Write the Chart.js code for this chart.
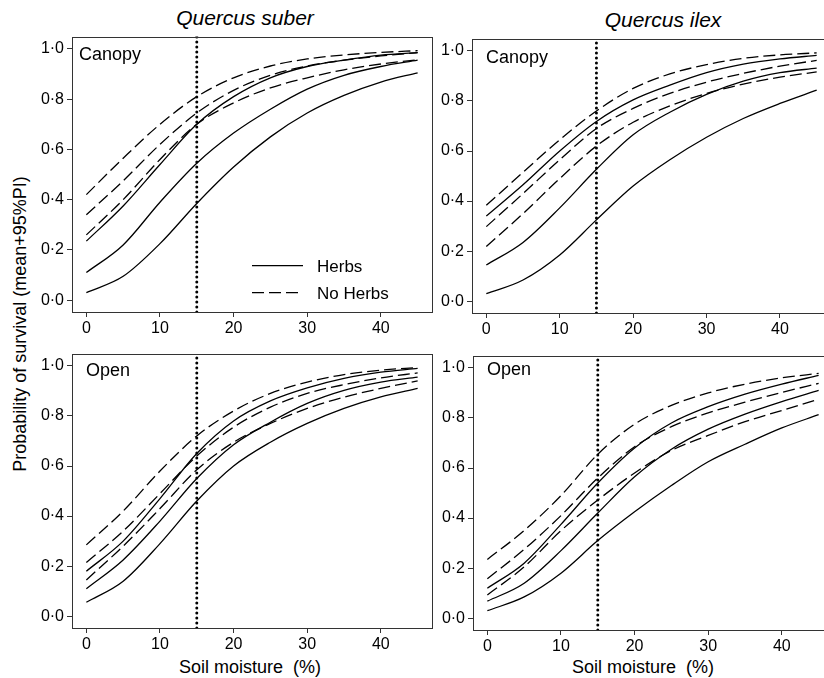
<!DOCTYPE html>
<html>
<head>
<meta charset="utf-8">
<script src="https://cdn.jsdelivr.net/npm/chart.js@4"></script>
<style>
  body { margin: 0; width: 824px; height: 678px; overflow: hidden; background: #fff; position: relative; font-family: "Liberation Sans", Arial, sans-serif; }
  canvas { position: absolute; }
  .lbl { position: absolute; white-space: pre; color: #000; transform: translate(-50%, -50%); }
  .title { font-style: italic; font-size: 21px; }
  .axis { font-size: 18px; }
</style>
</head>
<body>
<div class="lbl title" style="left:245px;top:18px">Quercus suber</div>
<div class="lbl title" style="left:663px;top:20px">Quercus ilex</div>
<div class="lbl axis" style="left:20px;top:324px;transform:translate(-50%,-50%) rotate(-90deg)">Probability of survival (mean+95%PI)</div>
<div class="lbl axis" style="left:250px;top:667px">Soil moisture  (%)</div>
<div class="lbl axis" style="left:643px;top:667px">Soil moisture  (%)</div>
<script>
// soil moisture (%) where curves were read
const moisture = [0, 5, 10, 15, 20, 25, 30, 35, 40, 45]
const threshold = 15
const xTicks = [0, 10, 20, 30, 40]
const xTickLabels = ["0", "10", "20", "30", "40"]
const yTicks = [0, 0.2, 0.4, 0.6, 0.8, 1]
const yTickLabels = ["0·0", "0·2", "0·4", "0·6", "0·8", "1·0"]

// Quercus suber, canopy
const suberCanopyHerbsLo = [0.03, 0.095, 0.225, 0.385, 0.53, 0.65, 0.745, 0.815, 0.868, 0.905]
const suberCanopyHerbsMid = [0.11, 0.22, 0.39, 0.545, 0.665, 0.76, 0.84, 0.895, 0.93, 0.955]
const suberCanopyHerbsHi = [0.235, 0.375, 0.54, 0.70, 0.81, 0.885, 0.93, 0.955, 0.975, 0.985]
const suberCanopyNoHerbsLo = [0.26, 0.40, 0.56, 0.70, 0.785, 0.845, 0.885, 0.917, 0.94, 0.957]
const suberCanopyNoHerbsMid = [0.34, 0.475, 0.62, 0.745, 0.835, 0.895, 0.932, 0.955, 0.972, 0.985]
const suberCanopyNoHerbsHi = [0.42, 0.565, 0.70, 0.81, 0.885, 0.932, 0.96, 0.976, 0.986, 0.993]

// Quercus ilex, canopy
const ilexCanopyHerbsLo = [0.03, 0.085, 0.185, 0.325, 0.46, 0.565, 0.655, 0.73, 0.79, 0.843]
const ilexCanopyHerbsMid = [0.145, 0.235, 0.373, 0.527, 0.665, 0.755, 0.826, 0.879, 0.913, 0.931]
const ilexCanopyHerbsHi = [0.34, 0.465, 0.60, 0.718, 0.804, 0.863, 0.913, 0.947, 0.968, 0.982]
const ilexCanopyNoHerbsLo = [0.219, 0.35, 0.49, 0.62, 0.715, 0.78, 0.83, 0.867, 0.895, 0.916]
const ilexCanopyNoHerbsMid = [0.298, 0.43, 0.565, 0.69, 0.77, 0.83, 0.875, 0.91, 0.939, 0.962]
const ilexCanopyNoHerbsHi = [0.383, 0.515, 0.645, 0.76, 0.85, 0.908, 0.945, 0.97, 0.984, 0.992]

// Quercus suber, open
const suberOpenHerbsLo = [0.056, 0.14, 0.29, 0.46, 0.60, 0.695, 0.77, 0.83, 0.876, 0.91]
const suberOpenHerbsMid = [0.11, 0.225, 0.38, 0.55, 0.685, 0.775, 0.85, 0.902, 0.935, 0.955]
const suberOpenHerbsHi = [0.18, 0.30, 0.47, 0.65, 0.78, 0.86, 0.912, 0.95, 0.975, 0.99]
const suberOpenNoHerbsLo = [0.145, 0.28, 0.43, 0.585, 0.695, 0.77, 0.83, 0.875, 0.91, 0.94]
const suberOpenNoHerbsMid = [0.215, 0.34, 0.49, 0.64, 0.755, 0.835, 0.89, 0.925, 0.952, 0.972]
const suberOpenNoHerbsHi = [0.285, 0.42, 0.58, 0.72, 0.82, 0.89, 0.935, 0.965, 0.983, 0.993]

// Quercus ilex, open
const ilexOpenHerbsLo = [0.03, 0.085, 0.18, 0.31, 0.425, 0.53, 0.625, 0.695, 0.76, 0.813]
const ilexOpenHerbsMid = [0.068, 0.14, 0.27, 0.42, 0.565, 0.675, 0.755, 0.815, 0.865, 0.91]
const ilexOpenHerbsHi = [0.12, 0.22, 0.375, 0.54, 0.68, 0.78, 0.845, 0.895, 0.935, 0.97]
const ilexOpenNoHerbsLo = [0.093, 0.205, 0.35, 0.472, 0.58, 0.67, 0.73, 0.785, 0.83, 0.875]
const ilexOpenNoHerbsMid = [0.158, 0.275, 0.41, 0.56, 0.685, 0.765, 0.82, 0.863, 0.902, 0.938]
const ilexOpenNoHerbsHi = [0.235, 0.35, 0.49, 0.655, 0.775, 0.85, 0.9, 0.935, 0.96, 0.978]

const X_MIN = -1.95, X_MAX = 46.95
const Y_MIN = -0.047, Y_MAX = 1.049
const PAD_L = 60, PAD_T = 10, PAD_R = 4, PAD_B = 32

Chart.defaults.font.family = '"Liberation Sans", Arial, sans-serif'
Chart.defaults.color = "#000"

const boxPlugin = {
  id: "box",
  afterDraw(chart) {
    const { ctx, chartArea: a } = chart
    ctx.save()
    ctx.strokeStyle = "#333"
    ctx.lineWidth = 1
    ctx.strokeRect(Math.round(a.left) + 0.5, Math.round(a.top) + 0.5, Math.round(a.right - a.left), Math.round(a.bottom - a.top))
    ctx.restore()
  },
}

const panelTextPlugin = {
  id: "panelText",
  afterDraw(chart, args, opts) {
    const { ctx, chartArea: a } = chart
    ctx.save()
    ctx.font = '18px "Liberation Sans", Arial, sans-serif'
    ctx.fillStyle = "#000"
    ctx.textBaseline = "alphabetic"
    ctx.fillText(opts.text, a.left + opts.dx, a.top + opts.dy)
    ctx.restore()
  },
}

const herbLegendPlugin = {
  id: "herbLegend",
  afterDraw(chart, args, opts) {
    if (!opts.show) return
    const { ctx, chartArea: a } = chart
    const rows = [
      { text: "Herbs", dash: [], dy: 229 },
      { text: "No Herbs", dash: [12, 5], dy: 256 },
    ]
    ctx.save()
    ctx.strokeStyle = "#000"
    ctx.lineWidth = 1.3
    ctx.fillStyle = "#000"
    ctx.font = '17px "Liberation Sans", Arial, sans-serif'
    rows.forEach((r) => {
      ctx.setLineDash(r.dash)
      ctx.beginPath()
      ctx.moveTo(a.left + 180, a.top + r.dy)
      ctx.lineTo(a.left + 231, a.top + r.dy)
      ctx.stroke()
      ctx.fillText(r.text, a.left + 245, a.top + r.dy + 6)
    })
    ctx.restore()
  },
}

function points(vals) {
  return moisture.map((x, i) => ({ x, y: vals[i] }))
}

function curve(vals, dashed) {
  return {
    data: points(vals),
    borderColor: "#000",
    borderWidth: 1.3,
    borderDash: dashed ? [12, 5] : [],
    pointRadius: 0,
    cubicInterpolationMode: "monotone",
    fill: false,
  }
}

function makePanel(box, herbs, noHerbs, label, showLegend) {
  const canvas = document.createElement("canvas")
  const w = box.r - box.l + PAD_L + PAD_R
  const h = box.b - box.t + PAD_T + PAD_B
  canvas.width = w
  canvas.height = h
  canvas.style.left = box.l - PAD_L + "px"
  canvas.style.top = box.t - PAD_T + "px"
  document.body.appendChild(canvas)

  const cutoff = {
    data: [{ x: threshold, y: Y_MIN }, { x: threshold, y: Y_MAX }],
    borderColor: "#000",
    borderWidth: 3,
    borderDash: [0, 5],
    borderCapStyle: "round",
    pointRadius: 0,
  }

  new Chart(canvas, {
    type: "line",
    data: {
      datasets: [
        cutoff,
        ...herbs.map((v) => curve(v, false)),
        ...noHerbs.map((v) => curve(v, true)),
      ],
    },
    options: {
      responsive: false,
      animation: false,
      devicePixelRatio: 1,
      events: [],
      layout: { padding: { left: 0, top: PAD_T, right: PAD_R, bottom: 0 } },
      plugins: {
        legend: { display: false },
        tooltip: { enabled: false },
        panelText: label,
        herbLegend: { show: showLegend },
      },
      scales: {
        x: {
          type: "linear",
          min: X_MIN,
          max: X_MAX,
          afterBuildTicks: (s) => { s.ticks = xTicks.map((v) => ({ value: v })) },
          afterFit: (s) => { s.height = PAD_B },
          ticks: {
            autoSkip: false,
            maxRotation: 0,
            padding: 2,
            font: { size: 16 },
            color: "#000",
            callback: (v, i) => xTickLabels[i],
          },
          grid: { drawOnChartArea: false, drawTicks: true, tickLength: 5, color: "#333" },
          border: { display: false },
        },
        y: {
          type: "linear",
          min: Y_MIN,
          max: Y_MAX,
          afterBuildTicks: (s) => { s.ticks = yTicks.map((v) => ({ value: v })) },
          afterFit: (s) => { s.width = PAD_L },
          ticks: {
            autoSkip: false,
            padding: 3,
            font: { size: 16 },
            color: "#000",
            callback: (v, i) => yTickLabels[i],
          },
          grid: { drawOnChartArea: false, drawTicks: true, tickLength: 5, color: "#333" },
          border: { display: false },
        },
      },
    },
    plugins: [boxPlugin, panelTextPlugin, herbLegendPlugin],
  })
}

makePanel(
  { l: 72, t: 34, r: 432, b: 312 },
  [suberCanopyHerbsLo, suberCanopyHerbsMid, suberCanopyHerbsHi],
  [suberCanopyNoHerbsLo, suberCanopyNoHerbsMid, suberCanopyNoHerbsHi],
  { text: "Canopy", dx: 7, dy: 23 },
  true
)
makePanel(
  { l: 472, t: 36, r: 831, b: 313 },
  [ilexCanopyHerbsLo, ilexCanopyHerbsMid, ilexCanopyHerbsHi],
  [ilexCanopyNoHerbsLo, ilexCanopyNoHerbsMid, ilexCanopyNoHerbsHi],
  { text: "Canopy", dx: 14, dy: 24 },
  false
)
makePanel(
  { l: 72, t: 351, r: 432, b: 628 },
  [suberOpenHerbsLo, suberOpenHerbsMid, suberOpenHerbsHi],
  [suberOpenNoHerbsLo, suberOpenNoHerbsMid, suberOpenNoHerbsHi],
  { text: "Open", dx: 14, dy: 22 },
  false
)
makePanel(
  { l: 473, t: 353, r: 833, b: 630 },
  [ilexOpenHerbsLo, ilexOpenHerbsMid, ilexOpenHerbsHi],
  [ilexOpenNoHerbsLo, ilexOpenNoHerbsMid, ilexOpenNoHerbsHi],
  { text: "Open", dx: 14, dy: 19 },
  false
)
</script>
</body>
</html>
